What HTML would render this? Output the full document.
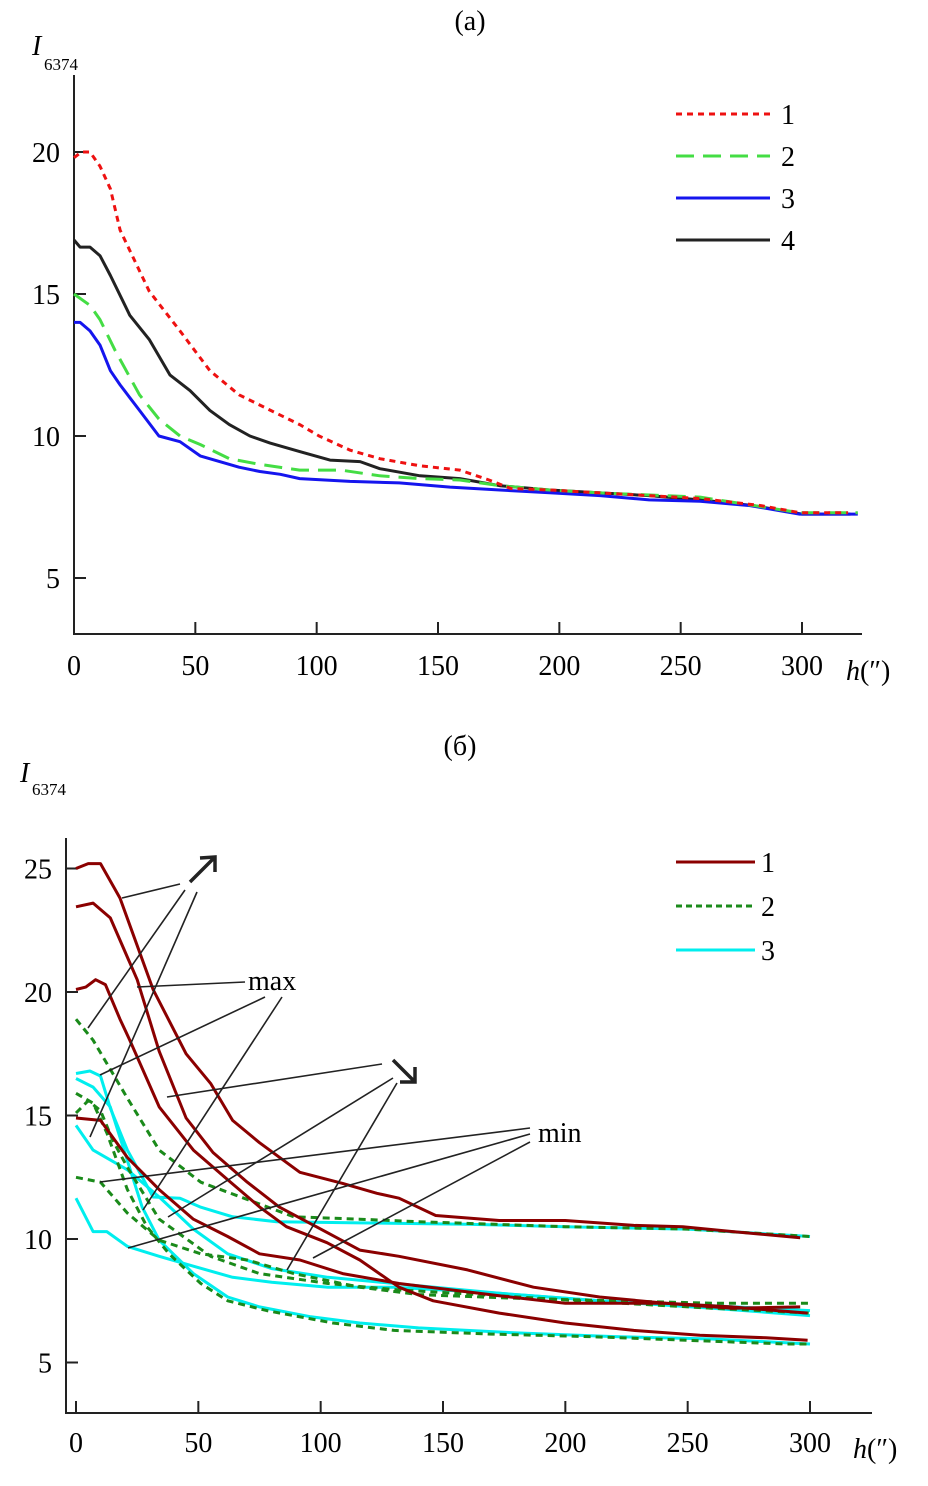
<!DOCTYPE html>
<html><head><meta charset="utf-8"><style>
body{margin:0;background:#fff;width:928px;height:1486px;overflow:hidden}
svg{display:block;font-family:"Liberation Serif",serif}
</style></head><body>
<svg width="928" height="1486" viewBox="0 0 928 1486">
<g id="pa"></g>
<g id="pb"></g>
</svg>
<script>
// ---- Panel (a) data ----
const aXTicks=[0,50,100,150,200,250,300];
const aYTicks=[5,10,15,20];
const aH1=[0,3,6.6,10.7,15,19,31,43.7,56,68,81,93,101,113.8,126,142.6,159,171,180,196,216,237,258,283,299,319];
const aI1=[19.8,20,20,19.5,18.7,17.25,15.1,13.7,12.3,11.45,10.9,10.4,10.0,9.5,9.2,8.95,8.8,8.45,8.15,8.1,8.0,7.9,7.8,7.55,7.3,7.3];
const aH2=[0,6.6,10.7,17,27,35,43.7,52,64,76.6,93,110,126,142.6,159,175.5,196,216,258,299,323];
const aI2=[15,14.6,14.1,13,11.45,10.6,10,9.7,9.2,9,8.8,8.8,8.6,8.5,8.45,8.25,8.1,8.0,7.85,7.3,7.3];
const aH3=[0,2.5,6.6,10.7,15,19,27,35,43.7,52,60,68,76.6,85,93,113.7,134,155,175.5,196,216.8,237,258,278.6,299,323];
const aI3=[14,14,13.7,13.2,12.3,11.8,10.9,10,9.8,9.3,9.1,8.9,8.75,8.65,8.5,8.4,8.35,8.2,8.1,8.0,7.9,7.75,7.7,7.55,7.25,7.25];
const aH4=[0,2.5,6.6,10.7,15,23,31,39.5,47.8,56,64,72.5,80.8,93,105.5,117.9,126,142.6,159,175.5,196,216,237,258,280,300,320];
const aI4=[16.9,16.65,16.65,16.35,15.65,14.25,13.4,12.15,11.6,10.9,10.4,10,9.75,9.45,9.15,9.1,8.85,8.6,8.5,8.25,8.1,8.0,7.9,7.75,7.55,7.25,7.25];
// ---- Panel (b) data ----
const bXTicks=[0,50,100,150,200,250,300];
const bYTicks=[5,10,15,20,25];
const bRedAH=[0,5,10,18,31.5,45,55,64,75,91.5,109,123,132,147,173,200,228,248,268.5,296];
const bRedAI=[25,25.2,25.2,23.8,20.1,17.5,16.3,14.8,13.9,12.7,12.25,11.85,11.65,10.95,10.75,10.75,10.55,10.5,10.3,10.05];
const bRedBH=[0,7,14,25,34,45,56,70,83,100,116,132,160,187,214,241,268,299];
const bRedBI=[23.45,23.6,23.0,20.5,17.6,14.9,13.5,12.3,11.3,10.4,9.55,9.3,8.75,8.05,7.65,7.4,7.25,7.0];
const bRedCH=[0,4,8,12,18,22,34,48,62,75,86,102.6,116,132,146,173,200,228,255,282,299];
const bRedCI=[20.1,20.2,20.5,20.3,18.9,18.05,15.35,13.6,12.4,11.3,10.5,9.85,9.15,8.05,7.5,7.0,6.6,6.3,6.1,6.0,5.9];
const bRedDH=[0,10,21,34,48,62,75,91.5,109,132,173,200,241,268,296];
const bRedDI=[14.9,14.8,13.3,12.0,10.8,10.1,9.4,9.15,8.6,8.2,7.7,7.4,7.4,7.2,7.25];
const bGrnAH=[0,7,21,34,51,70,89,116,140,200,250,300];
const bGrnAI=[18.9,18.05,15.7,13.6,12.3,11.6,10.9,10.8,10.7,10.5,10.4,10.1];
const bGrnBH=[0,7,12.6,21,29,38,51,62,78,105,130,170,210,250,290,300];
const bGrnBI=[15.9,15.5,14.3,12.0,10.5,9.4,8.2,7.5,7.1,6.6,6.3,6.15,6.05,5.9,5.75,5.75];
const bGrnCH=[0,5,10,15,21,34,55,75,103,130,173,214,260,300];
const bGrnCI=[15.1,15.6,15.2,14.0,12.9,10.8,9.3,8.6,8.2,7.95,7.7,7.45,7.2,7.0];
const bGrnDH=[0,10,21,34,51,70,89,116,140,180,220,260,300];
const bGrnDI=[12.5,12.3,11.05,9.95,9.4,9.15,8.6,8.05,7.75,7.6,7.5,7.4,7.4];
const bCyAH=[0,5.7,10,14,21,31.5,42.5,50.7,64,82,116,160,200,250,300];
const bCyAI=[16.7,16.8,16.6,15.3,13.6,11.7,11.65,11.3,10.9,10.7,10.65,10.6,10.5,10.4,10.1];
const bCyBH=[0,7,14,27,34,48,62,75,96,116,140,180,220,260,300];
const bCyBI=[16.5,16.15,15.35,11.3,9.95,8.6,7.65,7.25,6.85,6.6,6.4,6.2,6.05,5.95,5.75];
const bCyCH=[0,7,21,34,48,62,80,103,130,173,214,260,300];
const bCyCI=[14.6,13.6,12.8,11.7,10.4,9.4,8.8,8.45,8.2,7.8,7.5,7.2,6.9];
const bCyDH=[0,7,12.6,21,34,48,64,80,103,130,173,214,260,300];
const bCyDI=[11.65,10.3,10.3,9.7,9.3,8.9,8.45,8.25,8.05,8.05,7.8,7.5,7.3,7.1];

const NS='http://www.w3.org/2000/svg';
function mk(parent,tag,attrs,txt){const e=document.createElementNS(NS,tag);for(const k in attrs)e.setAttribute(k,attrs[k]);if(txt!==undefined)e.textContent=txt;parent.appendChild(e);return e;}

// ---------- Panel A ----------
const pa=document.getElementById('pa');
const ax=h=>74+h*2.4267, ay=v=>720-v*28.4;
let t;
t=mk(pa,'text',{x:470,y:30,'font-size':28,'text-anchor':'middle'},'(a)');


t=mk(pa,'line',{x1:74,y1:75,x2:74,y2:634,stroke:'#222','stroke-width':2});


t=mk(pa,'line',{x1:73,y1:634,x2:862,y2:634,stroke:'#222','stroke-width':2});


aXTicks.forEach(v=>{
  const x=ax(v);
  if(v>0){t=mk(pa,'line',{x1:x,y1:634,x2:x,y2:622,stroke:'#222','stroke-width':2});
  
  }
  t=mk(pa,'text',{x:x,y:675,'font-size':28,'text-anchor':'middle'},String(v));
  
  
});
aYTicks.forEach(v=>{
  const y=ay(v);
  t=mk(pa,'line',{x1:74,y1:y,x2:86,y2:y,stroke:'#222','stroke-width':2});
  
  
  t=mk(pa,'text',{x:60,y:y+10,'font-size':28,'text-anchor':'end'},String(v));
  
  
});
t=mk(pa,'text',{x:32,y:55,'font-size':28,'font-style':'italic'},'I');


t=mk(pa,'text',{x:44,y:70,'font-size':17},'6374');


t=mk(pa,'text',{x:846,y:680,'font-size':28},'');


mk(t,'tspan',{'font-style':'italic'},'h');mk(t,'tspan',{},'(″)');
function pathD(H,I,fx,fy){return H.map((h,i)=>(i?'L':'M')+fx(h).toFixed(1)+' '+fy(I[i]).toFixed(1)).join(' ');}
const aSeries=[[aH4,aI4,'#222','',4,'series-4-black'],[aH3,aI3,'#1515ee','',3,'series-3-blue'],[aH2,aI2,'#44dd44','18 9',2,'series-2-green'],[aH1,aI1,'#ee1111','6 5',1,'series-1-red']];
aSeries.forEach(s=>{
  t=mk(pa,'path',{d:pathD(s[0],s[1],ax,ay),fill:'none',stroke:s[2],'stroke-width':3,'stroke-dasharray':s[3],'stroke-linejoin':'round'});
  
  
  const ly=114+(s[4]-1)*42;
  t=mk(pa,'line',{x1:676,y1:ly,x2:770,y2:ly,stroke:s[2],'stroke-width':3,'stroke-dasharray':s[3]});
  
  
  t=mk(pa,'text',{x:781,y:ly+10,'font-size':28},String(s[4]));
  
  
});

// ---------- Panel B ----------
const pb=document.getElementById('pb');
const bx=h=>76+h*2.4467, by=v=>1486-v*24.7;
t=mk(pb,'text',{x:460,y:755,'font-size':28,'text-anchor':'middle'},'(б)');


t=mk(pb,'line',{x1:66,y1:838,x2:66,y2:1413,stroke:'#222','stroke-width':2});


t=mk(pb,'line',{x1:65,y1:1413,x2:872,y2:1413,stroke:'#222','stroke-width':2});


bXTicks.forEach(v=>{
  const x=bx(v);
  t=mk(pb,'line',{x1:x,y1:1413,x2:x,y2:1401,stroke:'#222','stroke-width':2});
  
  
  t=mk(pb,'text',{x:x,y:1452,'font-size':28,'text-anchor':'middle'},String(v));
  
  
});
bYTicks.forEach(v=>{
  const y=by(v);
  t=mk(pb,'line',{x1:66,y1:y,x2:78,y2:y,stroke:'#222','stroke-width':2});
  
  
  t=mk(pb,'text',{x:52,y:y+10,'font-size':28,'text-anchor':'end'},String(v));
  
  
});
t=mk(pb,'text',{x:20,y:782,'font-size':28,'font-style':'italic'},'I');


t=mk(pb,'text',{x:32,y:795,'font-size':17},'6374');


t=mk(pb,'text',{x:853,y:1458,'font-size':28},'');


mk(t,'tspan',{'font-style':'italic'},'h');mk(t,'tspan',{},'(″)');

const RED='#8b0000',GRN='#1a8a1a',CY='#00eeee';
const bSeries=[
 [bCyAH,bCyAI,CY,''],[bCyBH,bCyBI,CY,''],[bCyCH,bCyCI,CY,''],[bCyDH,bCyDI,CY,''],
 [bGrnAH,bGrnAI,GRN,'7 5'],[bGrnBH,bGrnBI,GRN,'7 5'],[bGrnCH,bGrnCI,GRN,'7 5'],[bGrnDH,bGrnDI,GRN,'7 5'],
 [bRedAH,bRedAI,RED,''],[bRedBH,bRedBI,RED,''],[bRedCH,bRedCI,RED,''],[bRedDH,bRedDI,RED,'']];
bSeries.forEach((s,i)=>{
  t=mk(pb,'path',{d:pathD(s[0],s[1],bx,by),fill:'none',stroke:s[2],'stroke-width':3,'stroke-dasharray':s[3],'stroke-linejoin':'round'});
  
  
});
[[RED,'',1],[GRN,'6 4',2],[CY,'',3]].forEach(s=>{
  const ly=862+(s[2]-1)*44;
  t=mk(pb,'line',{x1:676,y1:ly,x2:755,y2:ly,stroke:s[0],'stroke-width':3,'stroke-dasharray':s[1]});
  
  
  t=mk(pb,'text',{x:761,y:ly+10,'font-size':28},String(s[2]));
  
  
});
// annotation leader lines
const leaders=[[180,884,122,898],[185,890,88,1028],[197,892,90,1137],
 [245,982,137,987],[265,997,100,1075],[282,997,143,1210],
 [382,1064,167,1097],[393,1078,168,1217],[397,1083,287,1270],
 [530,1128,100,1182],[530,1134,128,1248],[530,1142,313,1258]];
leaders.forEach(l=>{
  t=mk(pb,'line',{x1:l[0],y1:l[1],x2:l[2],y2:l[3],stroke:'#222','stroke-width':1.6});
  
  
});
t=mk(pb,'path',{d:'M190 882 L215 857 M200 858 L215 857 L215 872',fill:'none',stroke:'#222','stroke-width':3.5});


t=mk(pb,'path',{d:'M393 1060 L415 1082 M400 1082 L415 1082 L415 1067',fill:'none',stroke:'#222','stroke-width':3.5});


t=mk(pb,'text',{x:248,y:990,'font-size':28},'max');


t=mk(pb,'text',{x:538,y:1142,'font-size':28},'min');


</script>
</body></html>
